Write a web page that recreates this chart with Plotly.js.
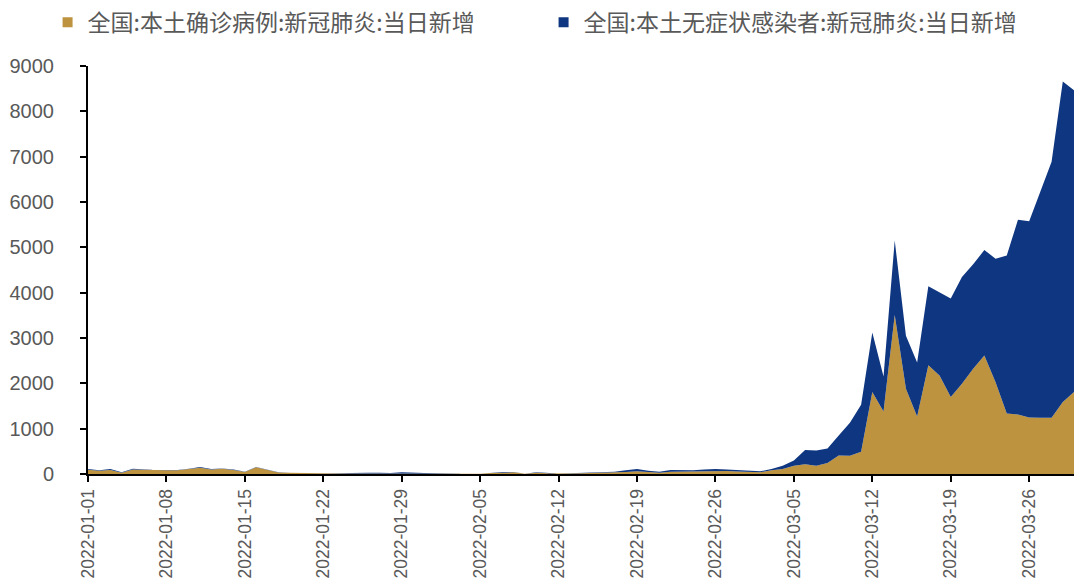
<!DOCTYPE html>
<html>
<head>
<meta charset="utf-8">
<script src="https://cdn.plot.ly/plotly-3.0.1.min.js"></script>
<style>html,body{margin:0;padding:0;background:#fff;}#chart{width:1075px;height:578px;}</style>
</head>
<body>
<div id="chart"></div>
<script>
// Dates 2022-01-01 .. 2022-03-30
const dates = [
 "2022-01-01","2022-01-02","2022-01-03","2022-01-04","2022-01-05","2022-01-06","2022-01-07","2022-01-08","2022-01-09","2022-01-10",
 "2022-01-11","2022-01-12","2022-01-13","2022-01-14","2022-01-15","2022-01-16","2022-01-17","2022-01-18","2022-01-19","2022-01-20",
 "2022-01-21","2022-01-22","2022-01-23","2022-01-24","2022-01-25","2022-01-26","2022-01-27","2022-01-28","2022-01-29","2022-01-30",
 "2022-01-31","2022-02-01","2022-02-02","2022-02-03","2022-02-04","2022-02-05","2022-02-06","2022-02-07","2022-02-08","2022-02-09",
 "2022-02-10","2022-02-11","2022-02-12","2022-02-13","2022-02-14","2022-02-15","2022-02-16","2022-02-17","2022-02-18","2022-02-19",
 "2022-02-20","2022-02-21","2022-02-22","2022-02-23","2022-02-24","2022-02-25","2022-02-26","2022-02-27","2022-02-28","2022-03-01",
 "2022-03-02","2022-03-03","2022-03-04","2022-03-05","2022-03-06","2022-03-07","2022-03-08","2022-03-09","2022-03-10","2022-03-11",
 "2022-03-12","2022-03-13","2022-03-14","2022-03-15","2022-03-16","2022-03-17","2022-03-18","2022-03-19","2022-03-20","2022-03-21",
 "2022-03-22","2022-03-23","2022-03-24","2022-03-25","2022-03-26","2022-03-27","2022-03-28","2022-03-29","2022-03-30"
];
// 本土确诊病例 (daily new)
const confirmed = [
 95,70,90,30,100,90,80,80,82,105,
 140,100,115,90,45,150,95,35,25,18,
 12,10,10,12,12,10,12,10,18,12,
 12,8,5,4,4,5,22,38,38,5,
 30,17,7,10,14,20,22,30,45,60,
 40,30,50,55,50,60,70,65,55,50,
 40,80,110,180,215,180,245,410,400,490,
 1807,1380,3505,1880,1270,2400,2173,1697,1990,2320,
 2612,2026,1332,1310,1244,1240,1240,1587,1807
];
// 本土无症状感染者 (daily new)
const asymptomatic = [
 15,10,20,10,17,10,8,8,8,12,
 15,10,9,10,5,5,5,5,5,4,
 3,5,8,13,16,15,16,12,22,13,
 10,7,3,2,2,3,8,7,7,3,
 7,5,3,5,8,15,15,21,35,50,
 33,21,38,33,30,40,40,35,33,35,
 20,30,70,120,315,340,315,440,730,1040,
 1313,770,1645,1170,1190,1740,1837,2173,2356,2305,
 2328,2724,3488,4300,4331,4994,5650,7073,6659
];
const legendNames = ["全国:本土确诊病例:新冠肺炎:当日新增", "全国:本土无症状感染者:新冠肺炎:当日新增"];
const colors = ["#BE9340", "#0F3680"];
const yTicks = [0,1000,2000,3000,4000,5000,6000,7000,8000,9000];

const traces = [
 {x: dates, y: confirmed, type: "scatter", mode: "lines", stackgroup: "one",
  line: {width: 0, color: colors[0]}, fillcolor: colors[0], showlegend: false, hoverinfo: "x+y"},
 {x: dates, y: asymptomatic, type: "scatter", mode: "lines", stackgroup: "one",
  line: {width: 0, color: colors[1]}, fillcolor: colors[1], showlegend: false, hoverinfo: "x+y"},
 {x: [null], y: [null], type: "scatter", mode: "markers", name: legendNames[0],
  marker: {symbol: "square", size: 10, color: colors[0]}},
 {x: [null], y: [null], type: "scatter", mode: "markers", name: legendNames[1],
  marker: {symbol: "square", size: 10, color: colors[1]}}
];

const layout = {
 width: 1075, height: 578,
 margin: {l: 88, r: 1, t: 64, b: 104},
 paper_bgcolor: "#ffffff", plot_bgcolor: "#ffffff",
 font: {family: "Liberation Sans, Arial, sans-serif", color: "#595959", size: 18},
 showlegend: true,
 legend: {orientation: "h", traceorder: "normal", x: -0.041, xanchor: "left", y: 1.16, yanchor: "top",
  font: {family: "Noto Sans CJK SC, sans-serif", size: 23, color: "#595959"},
  itemwidth: 30, entrywidth: 451, entrywidthmode: "pixels", bgcolor: "rgba(0,0,0,0)"},
 xaxis: {
  type: "date", range: ["2022-01-01", "2022-03-30"],
  tick0: "2022-01-01", dtick: 7*24*3600*1000, tickformat: "%Y-%m-%d",
  tickangle: -90, ticks: "outside", ticklen: 6, tickwidth: 2, tickcolor: "#000",
  showline: true, linecolor: "#000", linewidth: 2, showgrid: false, zeroline: false,
  tickfont: {family: "Liberation Sans, Arial, sans-serif", size: 17.5, color: "#595959"}
 },
 yaxis: {
  range: [0, 9000], tickvals: yTicks, ticktext: yTicks.map(String),
  ticks: "outside", ticklen: 6, tickwidth: 2, tickcolor: "#000", ticklabelstandoff: 22,
  showline: true, linecolor: "#000", linewidth: 2, showgrid: false, zeroline: false,
  tickfont: {family: "Liberation Sans, Arial, sans-serif", size: 20, color: "#595959"}
 }
};
Plotly.newPlot("chart", traces, layout, {displayModeBar: false, staticPlot: true});
</script>
</body>
</html>
